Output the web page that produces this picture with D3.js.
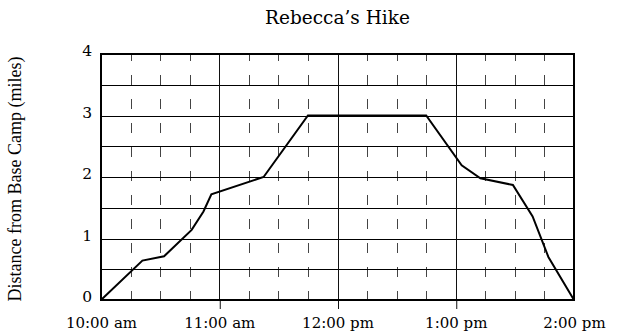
<!DOCTYPE html>
<html>
<head>
<meta charset="utf-8">
<script src="https://cdn.jsdelivr.net/npm/d3@7"></script>
<style>
  body { margin: 0; background: #fff; }
  svg { display: block; }
</style>
</head>
<body>
<svg id="chart" width="618" height="336"></svg>
<script>
// Minutes after 10:00 am and distance from base camp in miles
const minutes = [0, 21, 32, 46, 52, 56, 82.5, 105, 165, 183, 192.5, 209, 219, 227, 240];
const miles   = [0, 0.64, 0.71, 1.14, 1.44, 1.72, 2.0, 3.0, 3.0, 2.19, 1.98, 1.87, 1.36, 0.70, 0];

const hourTicks  = [0, 60, 120, 180, 240];
const hourLabels = ["10:00 am", "11:00 am", "12:00 pm", "1:00 pm", "2:00 pm"];
const mileTicks  = [0, 1, 2, 3, 4];
const halfMiles  = [0.5, 1, 1.5, 2, 2.5, 3, 3.5];
const quarterHours = [15, 30, 45, 75, 90, 105, 135, 150, 165, 195, 210, 225];

const titleText = "Rebecca’s Hike";
const yTitleText = "Distance from Base Camp (miles)";

const svg = d3.select("#chart");
const box = { left: 101, right: 574, top: 54, bottom: 300 };

const x = d3.scaleLinear().domain([0, 240]).range([box.left, box.right]);
const y = d3.scaleLinear().domain([0, 4]).range([box.bottom, box.top]);

const serif = "'DejaVu Serif', serif";

// quarter-hour dashed guides
svg.append("g")
  .selectAll("line")
  .data(quarterHours)
  .join("line")
  .attr("x1", d => Math.round(x(d)) + 0.5)
  .attr("x2", d => Math.round(x(d)) + 0.5)
  .attr("y1", box.top)
  .attr("y2", box.bottom)
  .attr("stroke", "#444")
  .attr("stroke-width", 1)
  .attr("stroke-dasharray", "10,14")
  .attr("stroke-dashoffset", 3);

// half-mile horizontal grid
svg.append("g")
  .selectAll("line")
  .data(halfMiles)
  .join("line")
  .attr("x1", box.left)
  .attr("x2", box.right)
  .attr("y1", d => Math.round(y(d)) + 0.5)
  .attr("y2", d => Math.round(y(d)) + 0.5)
  .attr("stroke", "#000")
  .attr("stroke-width", 1);

// hour lines (interior)
svg.append("g")
  .selectAll("line")
  .data(hourTicks.slice(1, -1))
  .join("line")
  .attr("x1", d => Math.round(x(d)) + 0.5)
  .attr("x2", d => Math.round(x(d)) + 0.5)
  .attr("y1", box.top)
  .attr("y2", box.bottom)
  .attr("stroke", "#111")
  .attr("stroke-width", 1);

// x axis: hour labels with ticks below the frame
const xAxis = d3.axisBottom(x)
  .tickValues(hourTicks)
  .tickFormat((d, i) => hourLabels[i])
  .tickSize(9)
  .tickPadding(8);

const gx = svg.append("g")
  .attr("transform", `translate(0,${box.bottom})`)
  .call(xAxis);
gx.select(".domain").remove();
gx.selectAll(".tick line")
  .attr("stroke", "#111")
  .attr("transform", "translate(0.5,0)")
  .attr("display", (d, i) => (i === 0 || i === hourTicks.length - 1) ? "none" : null);
gx.selectAll(".tick text")
  .attr("font-family", serif)
  .attr("font-size", 15)
  .attr("fill", "#000");

// y axis: mile labels
const yAxis = d3.axisLeft(y)
  .tickValues(mileTicks)
  .tickFormat(d3.format("d"))
  .tickSize(0)
  .tickPadding(9);

const gy = svg.append("g")
  .attr("transform", `translate(${box.left},0)`)
  .call(yAxis);
gy.select(".domain").remove();
gy.selectAll(".tick text")
  .attr("font-family", serif)
  .attr("font-size", 15.5)
  .attr("dy", "0.12em")
  .attr("fill", "#000");

// hike path
const line = d3.line()
  .x(d => x(d[0]))
  .y(d => y(d[1]));

svg.append("path")
  .datum(minutes.map((m, i) => [m, miles[i]]))
  .attr("d", line)
  .attr("fill", "none")
  .attr("stroke", "#000")
  .attr("stroke-width", 2)
  .attr("stroke-linejoin", "miter");

// frame
svg.append("rect")
  .attr("x", box.left)
  .attr("y", box.top)
  .attr("width", box.right - box.left)
  .attr("height", box.bottom - box.top)
  .attr("fill", "none")
  .attr("stroke", "#000")
  .attr("stroke-width", 2);

// title
svg.append("text")
  .attr("x", (box.left + box.right) / 2)
  .attr("y", 24)
  .attr("text-anchor", "middle")
  .attr("font-family", serif)
  .attr("font-size", 18.5)
  .text(titleText);

// y axis title
svg.append("text")
  .attr("transform", `translate(21,${(box.top + box.bottom) / 2 + 2}) rotate(-90)`)
  .attr("text-anchor", "middle")
  .attr("font-family", "'Liberation Serif', serif")
  .attr("font-size", 18)
  .text(yTitleText);
</script>
</body>
</html>
